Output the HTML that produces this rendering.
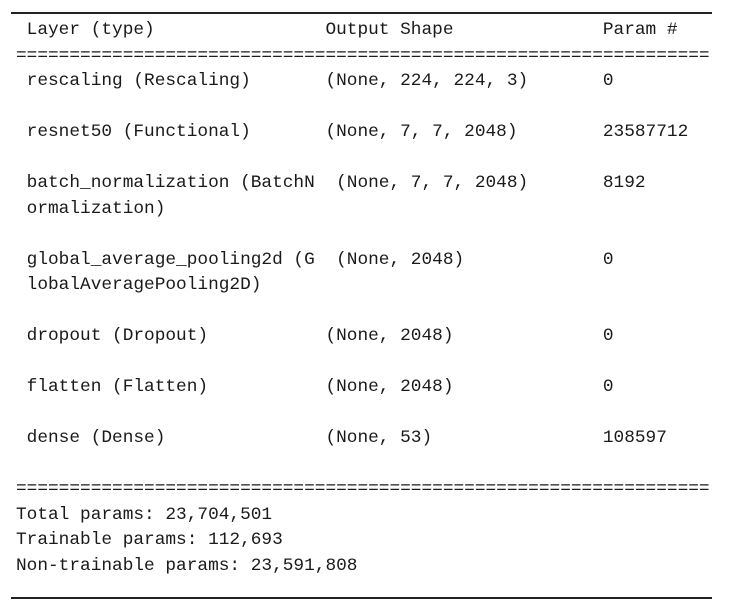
<!DOCTYPE html>
<html><head><meta charset="utf-8"><style>
html,body{margin:0;padding:0;background:#fff;width:731px;height:609px;overflow:hidden;position:relative}
pre{position:absolute;left:16px;top:18px;margin:0;font-family:"Liberation Mono",monospace;font-size:17.8px;line-height:25.5px;color:#1a1a1a}
.ln{position:absolute;left:11px;width:701px;height:2px;background:#222}
</style></head><body>
<div class="ln" style="top:12px"></div>
<pre> Layer (type)                Output Shape              Param #
=================================================================
 rescaling (Rescaling)       (None, 224, 224, 3)       0

 resnet50 (Functional)       (None, 7, 7, 2048)        23587712

 batch_normalization (BatchN  (None, 7, 7, 2048)       8192
 ormalization)

 global_average_pooling2d (G  (None, 2048)             0
 lobalAveragePooling2D)

 dropout (Dropout)           (None, 2048)              0

 flatten (Flatten)           (None, 2048)              0

 dense (Dense)               (None, 53)                108597

=================================================================
Total params: 23,704,501
Trainable params: 112,693
Non-trainable params: 23,591,808</pre>
<div class="ln" style="top:597px"></div>
</body></html>
